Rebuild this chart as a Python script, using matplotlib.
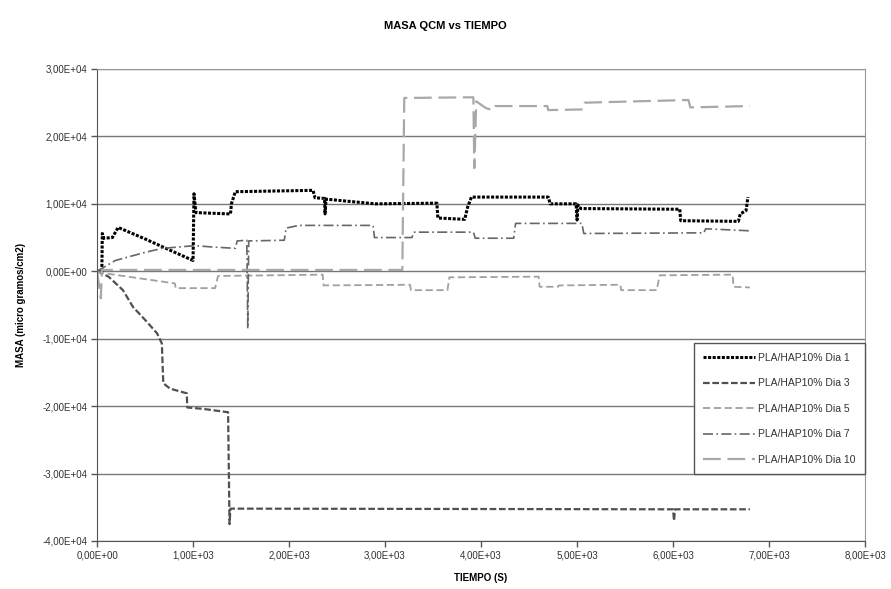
import matplotlib.pyplot as plt
from matplotlib.ticker import FuncFormatter

plt.rcParams['font.family'] = ['Liberation Sans', 'DejaVu Sans']

# tiempo (s) / masa (micro gramos/cm2) por ensayo
t_dia1 = [0, 50, 55, 70, 160, 220, 500, 780, 1000, 1010, 1030, 1390, 1400, 1440,
          2250, 2270, 2370, 2375, 2385, 2600, 2900, 3540, 3550, 3830, 3860, 3900,
          4700, 4720, 4990, 5000, 5010, 5040, 6070, 6080, 6680, 6700, 6760, 6780]
m_dia1 = [0, 0, 5600, 4900, 5000, 6500, 4800, 3000, 1600, 11500, 8700, 8500, 10000, 11800,
          12000, 10900, 10800, 8500, 10700, 10400, 10000, 10100, 7900, 7700, 9500, 11000,
          11000, 10000, 10000, 7600, 9800, 9300, 9200, 7500, 7400, 8500, 9000, 11000]

t_dia3 = [0, 120, 270, 375, 500, 625, 675, 690, 760, 935, 940, 1100, 1365,
          1380, 1390, 1410, 6000, 6010, 6020, 6800]
m_dia3 = [0, -800, -2800, -5300, -7200, -9200, -10700, -16600, -17400, -18100, -20200,
          -20400, -20900, -37500, -35200, -35200, -35300, -37000, -35300, -35300]

t_dia5 = [0, 30, 810, 820, 1230, 1260, 2350, 2360, 3260, 3270, 3650, 3670,
          4600, 4610, 4800, 4810, 5450, 5460, 5830, 5860, 6620, 6630, 6800]
m_dia5 = [0, -200, -1800, -2500, -2500, -700, -500, -2100, -2000, -2800, -2800, -900,
          -800, -2300, -2300, -2100, -2000, -2800, -2800, -600, -500, -2300, -2400]

t_dia7 = [0, 190, 500, 680, 1020, 1200, 1440, 1460, 1560, 1570, 1580, 1950, 1970,
          2100, 2875, 2890, 3280, 3300, 3920, 3940, 4340, 4360, 5050, 5070, 6320,
          6340, 6800]
m_dia7 = [0, 1600, 2800, 3400, 3800, 3600, 3400, 4500, 4600, -8500, 4500, 4600, 6400,
          6800, 6800, 5000, 5000, 5800, 5800, 4900, 4900, 7100, 7100, 5600, 5700,
          6300, 6000]

t_dia10 = [0, 40, 50, 3180, 3200, 3920, 3930, 3950, 4050, 4120, 4150, 4690, 4700,
           5060, 5080, 6160, 6180, 6800]
m_dia10 = [0, -4000, 200, 200, 25700, 25800, 15300, 25200, 24200, 23900, 24500, 24500,
           23900, 24000, 25000, 25400, 24300, 24500]

etiquetas = ['PLA/HAP10% Dia 1', 'PLA/HAP10% Dia 3', 'PLA/HAP10% Dia 5',
             'PLA/HAP10% Dia 7', 'PLA/HAP10% Dia 10']

fig = plt.figure(figsize=(8.91, 5.89), dpi=100)
ax = fig.add_axes([0.1089, 0.0815, 0.862, 0.8014])

ax.plot(t_dia1, m_dia1, color='black', lw=2.2, ls=(0, (1, 0.5)), label=etiquetas[0])
ax.plot(t_dia3, m_dia3, color='#505050', lw=1.6, ls=(0, (3, 1.2)), label=etiquetas[1])
ax.plot(t_dia5, m_dia5, color='#a0a0a0', lw=1.3, ls=(0, (4, 2)), label=etiquetas[2])
ax.plot(t_dia7, m_dia7, color='#666666', lw=1.2, ls=(0, (6, 2, 1, 2)), label=etiquetas[3])
ax.plot(t_dia10, m_dia10, color='#a8a8a8', lw=1.6, ls=(0, (8, 3)), label=etiquetas[4])

ax.set_xlim(0, 8000)
ax.set_ylim(-40000, 30000)
ax.set_xticks(range(0, 8001, 1000))
ax.set_yticks(range(-40000, 30001, 10000))


def excel_sci(v, pos):
    s = '%.2E' % v
    return s.replace('.', ',')


ax.xaxis.set_major_formatter(FuncFormatter(excel_sci))
ax.yaxis.set_major_formatter(FuncFormatter(excel_sci))
ax.tick_params(axis='both', labelsize=7, colors='#555555', labelcolor='#333333',
               length=4, width=1, direction='out', pad=3)

ax.yaxis.grid(True, color='#777777', lw=1)
ax.set_axisbelow(True)
for side in ['left', 'bottom']:
    ax.spines[side].set_color('#555555')
for side in ['top', 'right']:
    ax.spines[side].set_color('#999999')

fig.suptitle('MASA QCM vs TIEMPO', x=0.5, y=0.965, fontsize=8, fontweight='bold')
ax.set_ylabel('MASA (micro gramos/cm2)', fontsize=7, fontweight='bold', labelpad=12)
ax.set_xlabel('TIEMPO (S)', fontsize=7, fontweight='bold', labelpad=9)

leg = ax.legend(loc='upper right', bbox_to_anchor=(1.0, 0.419), borderaxespad=0,
                fontsize=7.5, handlelength=5, labelspacing=1.5, fancybox=False,
                framealpha=1, edgecolor='#555555', borderpad=0.9, handletextpad=0.3)
leg.get_frame().set_linewidth(1)
for txt in leg.get_texts():
    txt.set_color('#333333')

fig.savefig('out.png', dpi=100)
